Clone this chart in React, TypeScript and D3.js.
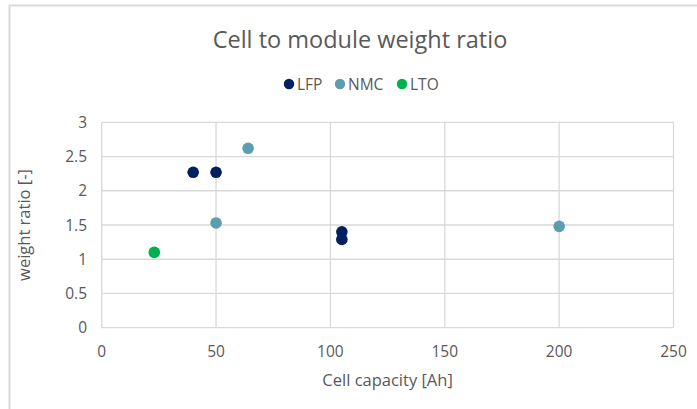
import React from "react";
import * as d3 from "d3";

// Cell capacity [Ah] and weight ratio per chemistry
const lfpCapacity = [40, 50, 105, 105];
const lfpRatio = [2.27, 2.27, 1.4, 1.29];
const nmcCapacity = [64, 50, 200];
const nmcRatio = [2.62, 1.53, 1.48];
const ltoCapacity = [23];
const ltoRatio = [1.1];

const seriesNames = ["LFP", "NMC", "LTO"];
const xTicks = [0, 50, 100, 150, 200, 250];
const yTicks = [0, 0.5, 1, 1.5, 2, 2.5, 3];

const W = 697;
const H = 409;
const FONT = "'Open Sans', 'Noto Sans', sans-serif";
const TEXT = "#595959";
const GRID = "#d9d9d9";
const COLORS = ["#002060", "#5b9eb0", "#00b050"];

export default function App() {
  const x = d3.scaleLinear().domain([0, 250]).range([101.7, 673.5]);
  const y = d3.scaleLinear().domain([0, 3]).range([327.7, 122.3]);

  const series = [
    { name: seriesNames[0], xs: lfpCapacity, ys: lfpRatio, color: COLORS[0] },
    { name: seriesNames[1], xs: nmcCapacity, ys: nmcRatio, color: COLORS[1] },
    { name: seriesNames[2], xs: ltoCapacity, ys: ltoRatio, color: COLORS[2] },
  ];

  const legendX = [289, 340, 402];

  return (
    <svg
      width={W}
      height={H}
      style={{ position: "absolute", left: 0, top: 0, background: "#fff" }}
      fontFamily={FONT}
    >
      {/* chart frame */}
      <line x1={9} y1={5.5} x2={W} y2={5.5} stroke={GRID} strokeWidth={2} />
      <line x1={9.5} y1={5} x2={9.5} y2={H} stroke={GRID} strokeWidth={2} />

      <text x={360} y={48} textAnchor="middle" fontSize={23.5} fill={TEXT}>
        Cell to module weight ratio
      </text>

      {/* legend */}
      {series.map((s, i) => (
        <g key={s.name}>
          <circle cx={legendX[i]} cy={84} r={5.2} fill={s.color} />
          <text x={legendX[i] + 8} y={89.5} fontSize={15.5} fill={TEXT}>
            {s.name}
          </text>
        </g>
      ))}

      {/* gridlines */}
      {yTicks.map((t) => (
        <line key={"gy" + t} x1={x(0)} x2={x(250)} y1={y(t)} y2={y(t)} stroke={GRID} strokeWidth={1.3} />
      ))}
      {xTicks.map((t) => (
        <line key={"gx" + t} x1={x(t)} x2={x(t)} y1={y(0)} y2={y(3)} stroke={GRID} strokeWidth={1.3} />
      ))}

      {/* tick labels */}
      {yTicks.map((t) => (
        <text key={"ty" + t} x={87} y={y(t) + 5.5} textAnchor="end" fontSize={15.5} fill={TEXT}>
          {t}
        </text>
      ))}
      {xTicks.map((t) => (
        <text key={"tx" + t} x={x(t)} y={357} textAnchor="middle" fontSize={15.5} fill={TEXT}>
          {t}
        </text>
      ))}

      {/* axis titles */}
      <text x={x(125)} y={386} textAnchor="middle" fontSize={16.5} fill={TEXT}>
        Cell capacity [Ah]
      </text>
      <text
        transform={`translate(24,${y(1.5)}) rotate(-90)`}
        x={0}
        y={6}
        textAnchor="middle"
        fontSize={16.5}
        fill={TEXT}
      >
        weight ratio [-]
      </text>

      {/* points */}
      {series.map((s) =>
        s.xs.map((v, j) => (
          <circle key={s.name + j} cx={x(v)} cy={y(s.ys[j])} r={5.8} fill={s.color} />
        ))
      )}
    </svg>
  );
}
